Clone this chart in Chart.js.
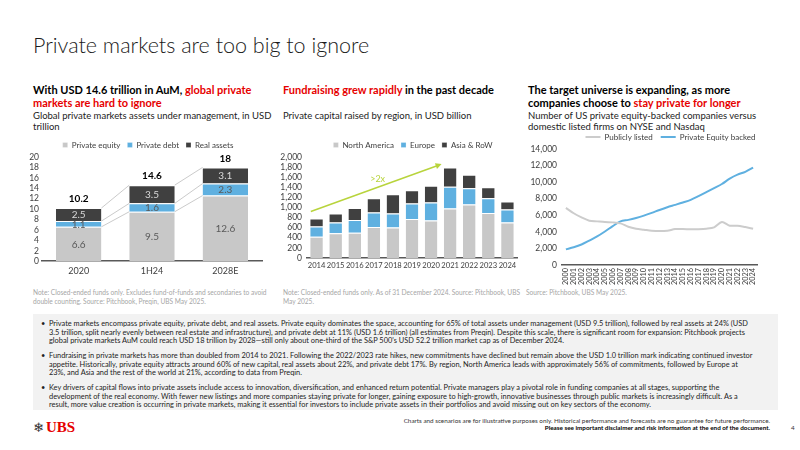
<!DOCTYPE html>
<html>
<head>
<meta charset="utf-8">
<script src="https://cdn.jsdelivr.net/npm/chart.js@4.4.1/dist/chart.umd.min.js"></script>
<style>
  body { margin: 0; width: 800px; height: 450px; position: relative; overflow: hidden; background: #fff; font-family: Lato, "Noto Sans", sans-serif; color: #000; }
  .abs { position: absolute; white-space: nowrap; }
  .title { left: 33px; top: 32px; font-size: 21.5px; line-height: 26px; font-weight: 300; color: #1a1a1a; }
  .head { top: 83px; font-size: 11px; line-height: 13.3px; font-weight: 700; }
  .red { color: #e60000; }
  .sub { top: 111px; font-size: 9.5px; line-height: 10.6px; color: #222; }
  .note { top: 288px; font-size: 6.6px; line-height: 8.5px; color: #a6a6a6; }
  .box { left: 33px; top: 314px; width: 745px; height: 96px; background: #f2f2f2; }
  .bullets { left: 41px; top: 320px; font-size: 7.4px; line-height: 8.5px; color: #222; }
  .bullets .b { position: relative; padding-left: 8px; margin-bottom: 6.5px; }
  .bullets .b::before { content: "•"; position: absolute; left: 0; top: 0; }
  .chart { position: absolute; }
  .foot { right: 30px; top: 417px; font-size: 6.3px; line-height: 7px; text-align: right; color: #333; }
  .pg { left: 791px; top: 424px; font-size: 6.3px; color: #333; }
  .logo { left: 33px; top: 417px; font-size: 15px; line-height: 18px; }
  .logo .k { color: #333; font-size: 13px; font-family: "DejaVu Sans", sans-serif; }
  .logo .u { color: #e60000; font-family: "Liberation Serif", serif; font-weight: 700; margin-left: 2px; }
</style>
</head>
<body>

<div class="abs title">Private markets are too big to ignore</div>

<div class="abs head" style="left:33px">With USD 14.6 trillion in AuM, <span class="red">global private</span><br><span class="red">markets are hard to ignore</span></div>
<div class="abs head" style="left:283px"><span class="red">Fundraising grew rapidly</span> in the past decade</div>
<div class="abs head" style="left:528px">The target universe is expanding, as more<br>companies choose to <span class="red">stay private for longer</span></div>

<div class="abs sub" style="left:33px">Global private markets assets under management, in USD<br>trillion</div>
<div class="abs sub" style="left:283px">Private capital raised by region, in USD billion</div>
<div class="abs sub" style="left:528px">Number of US private equity-backed companies versus<br>domestic listed firms on NYSE and Nasdaq</div>

<div class="chart" style="left:0px;top:134px;width:270px;height:146px"><canvas id="aumChart"></canvas></div>
<div class="chart" style="left:270px;top:134px;width:260px;height:139px"><canvas id="raisedChart"></canvas></div>
<div class="chart" style="left:530px;top:125px;width:270px;height:163px"><canvas id="firmsChart"></canvas></div>

<div class="abs note" style="left:33px">Note: Closed-ended funds only. Excludes fund-of-funds and secondaries to avoid<br>double counting. Source: Pitchbook, Preqin, UBS May 2025.</div>
<div class="abs note" style="left:283px">Note: Closed-ended funds only. As of 31 December 2024. Source: Pitchbook, UBS<br>May 2025.</div>
<div class="abs note" style="left:526px">Source: Pitchbook, UBS May 2025.</div>

<div class="abs box"></div>
<div class="abs bullets">
  <div class="b">Private markets encompass private equity, private debt, and real assets. Private equity dominates the space, accounting for 65% of total assets under management (USD 9.5 trillion), followed by real assets at 24% (USD<br>3.5 trillion, split nearly evenly between real estate and infrastructure), and private debt at 11% (USD 1.6 trillion) (all estimates from Preqin). Despite this scale, there is significant room for expansion: Pitchbook projects<br>global private markets AuM could reach USD 18 trillion by 2028—still only about one-third of the S&amp;P 500's USD 52.2 trillion market cap as of December 2024.</div>
  <div class="b">Fundraising in private markets has more than doubled from 2014 to 2021. Following the 2022/2023 rate hikes, new commitments have declined but remain above the USD 1.0 trillion mark indicating continued investor<br>appetite. Historically, private equity attracts around 60% of new capital, real assets about 22%, and private debt 17%. By region, North America leads with approximately 56% of commitments, followed by Europe at<br>23%, and Asia and the rest of the world at 21%, according to data from Preqin.</div>
  <div class="b">Key drivers of capital flows into private assets include access to innovation, diversification, and enhanced return potential. Private managers play a pivotal role in funding companies at all stages, supporting the<br>development of the real economy. With fewer new listings and more companies staying private for longer, gaining exposure to high-growth, innovative businesses through public markets is increasingly difficult. As a<br>result, more value creation is occurring in private markets, making it essential for investors to include private assets in their portfolios and avoid missing out on key sectors of the economy.</div>
</div>

<div class="abs logo"><span class="k">❄</span><span class="u">UBS</span></div>
<div class="abs foot">Charts and scenarios are for illustrative purposes only. Historical performance and forecasts are no guarantee for future performance.<br><b style="color:#000">Please see important disclaimer and risk information at the end of the document.</b></div>
<div class="abs pg">4</div>

<script>
/* ===== DATA ===== */
const aumPeriods = ["2020", "1H24", "2028E"];
const aumEquity = [6.6, 9.5, 12.6];
const aumDebt = [1.1, 1.6, 2.3];
const aumReal = [2.5, 3.5, 3.1];
const aumTotals = [10.2, 14.6, 18];

const raisedYears = ["2014", "2015", "2016", "2017", "2018", "2019", "2020", "2021", "2022", "2023", "2024"];
const raisedNorthAmerica = [420, 490, 500, 610, 600, 770, 740, 980, 1060, 890, 700];
const raisedEurope = [200, 210, 250, 290, 280, 310, 360, 430, 320, 290, 260];
const raisedAsiaRow = [160, 180, 240, 280, 380, 260, 330, 380, 270, 220, 160];

const firmYears = ["2000", "2001", "2002", "2003", "2004", "2005", "2006", "2007", "2008", "2009", "2010", "2011", "2012",
  "2013", "2014", "2015", "2016", "2017", "2018", "2019", "2020", "2021", "2022", "2023", "2024"];
const firmsListed = [6900, 6250, 5750, 5350, 5270, 5190, 5150, 5030, 4620, 4380, 4260, 4140, 4100,
  4140, 4340, 4340, 4330, 4330, 4380, 4540, 5190, 4750, 4750, 4580, 4380];
const firmsPeBacked = [1900, 2150, 2480, 2950, 3450, 4050, 4700, 5270, 5450, 5680, 5960, 6290, 6650,
  6980, 7260, 7550, 7870, 8320, 8800, 9290, 9780, 10430, 10910, 11240, 11760];

/* ===== STYLE ===== */
const GRAY = "#c8c8c8";
const BLUE = "#5fb0e0";
const DARK = "#404040";
const AXIS = "#595959";
const GREEN = "#b8d43c";

Chart.defaults.font.family = "Lato, 'Noto Sans', sans-serif";
Chart.defaults.font.size = 9;
Chart.defaults.color = "#404040";
Chart.defaults.animation = false;

/* fixed legend height, legend centred on the plot area */
function legendBox(h, dx) {
  return {
    id: "legendBox",
    beforeInit(chart) {
      const fit = chart.legend.fit;
      chart.legend.fit = function () {
        fit.call(this);
        this.height = h;
      };
    },
    afterLayout(chart) {
      const lg = chart.legend, a = chart.chartArea;
      const shift = (a.left + a.right) / 2 + dx - (lg.left + lg.right) / 2;
      lg.left += shift;
      lg.right += shift;
    }
  };
}

function legendOpts(extra) {
  return Object.assign({
    display: true,
    position: "top",
    labels: { boxWidth: 5, boxHeight: 5, padding: 7, color: "#404040", font: { size: 8 } }
  }, extra || {});
}

/* ===== CHART 1: AUM ===== */
const aumConnectors = {
  id: "aumConnectors",
  afterDatasetsDraw(chart) {
    const ctx = chart.ctx;
    ctx.save();
    ctx.strokeStyle = "#bdbdbd";
    ctx.lineWidth = 0.8;
    for (let d = 0; d < chart.data.datasets.length; d++) {
      const bars = chart.getDatasetMeta(d).data;
      for (let i = 0; i < bars.length - 1; i++) {
        const a = bars[i], b = bars[i + 1];
        ctx.beginPath();
        ctx.moveTo(a.x + a.width / 2, a.y);
        ctx.lineTo(b.x - b.width / 2, b.y);
        ctx.stroke();
      }
    }
    // values inside segments
    ctx.textAlign = "center";
    ctx.textBaseline = "middle";
    ctx.font = "10px Lato, sans-serif";
    const labelColors = ["#595959", "#595959", "#d9d9d9"];
    chart.data.datasets.forEach((ds, d) => {
      chart.getDatasetMeta(d).data.forEach((bar, i) => {
        ctx.fillStyle = labelColors[d];
        ctx.fillText(ds.data[i].toFixed(1), bar.x, (bar.y + bar.base) / 2 + 0.5);
      });
    });
    // totals
    const top = chart.getDatasetMeta(chart.data.datasets.length - 1).data;
    ctx.font = "bold 10px Lato, sans-serif";
    ctx.fillStyle = "#000";
    top.forEach((bar, i) => {
      ctx.fillText(String(aumTotals[i]), bar.x, bar.y - 9);
    });
    ctx.restore();
  }
};

new Chart(document.getElementById("aumChart"), {
  type: "bar",
  data: {
    labels: aumPeriods,
    datasets: [
      { label: "Private equity", data: aumEquity, backgroundColor: GRAY },
      { label: "Private debt", data: aumDebt, backgroundColor: BLUE },
      { label: "Real assets", data: aumReal, backgroundColor: DARK }
    ].map(ds => Object.assign(ds, {
      borderColor: "#fff", borderWidth: { top: 1 }, borderSkipped: "bottom",
      barPercentage: 0.62, categoryPercentage: 1
    }))
  },
  options: {
    responsive: true,
    maintainAspectRatio: false,
    layout: { padding: { right: 8 } },
    plugins: { legend: legendOpts(), tooltip: { enabled: false } },
    scales: {
      x: {
        stacked: true,
        grid: { display: false, drawTicks: false },
        border: { color: AXIS, width: 1.5 },
        ticks: { padding: 4, font: { size: 9 } }
      },
      y: {
        stacked: true, min: 0, max: 20,
        grid: { display: false, drawTicks: false },
        border: { display: false },
        ticks: { stepSize: 2, autoSkip: false, padding: 3, font: { size: 8.5 } },
        afterFit(axis) { axis.width = 42; }
      }
    }
  },
  plugins: [legendBox(23, -4), aumConnectors]
});

/* ===== CHART 2: CAPITAL RAISED ===== */
const growthArrow = {
  id: "growthArrow",
  afterDatasetsDraw(chart) {
    const x = chart.scales.x, y = chart.scales.y, ctx = chart.ctx;
    const x0 = x.getPixelForValue(-0.3), y0 = y.getPixelForValue(920);
    const x1 = x.getPixelForValue(6.55), y1 = y.getPixelForValue(1860);
    const ang = Math.atan2(y1 - y0, x1 - x0);
    ctx.save();
    ctx.strokeStyle = GREEN;
    ctx.fillStyle = GREEN;
    ctx.lineWidth = 1.5;
    ctx.beginPath();
    ctx.moveTo(x0, y0);
    ctx.lineTo(x1 - 4 * Math.cos(ang), y1 - 4 * Math.sin(ang));
    ctx.stroke();
    ctx.beginPath();
    ctx.moveTo(x1, y1);
    ctx.lineTo(x1 - 6 * Math.cos(ang) + 3 * Math.sin(ang), y1 - 6 * Math.sin(ang) - 3 * Math.cos(ang));
    ctx.lineTo(x1 - 6 * Math.cos(ang) - 3 * Math.sin(ang), y1 - 6 * Math.sin(ang) + 3 * Math.cos(ang));
    ctx.closePath();
    ctx.fill();
    ctx.font = "9px Lato, sans-serif";
    ctx.textAlign = "center";
    ctx.textBaseline = "middle";
    ctx.fillText(">2x", x.getPixelForValue(3.2), y.getPixelForValue(1570));
    ctx.restore();
  }
};

new Chart(document.getElementById("raisedChart"), {
  type: "bar",
  data: {
    labels: raisedYears,
    datasets: [
      { label: "North America", data: raisedNorthAmerica, backgroundColor: GRAY },
      { label: "Europe", data: raisedEurope, backgroundColor: BLUE },
      { label: "Asia & RoW", data: raisedAsiaRow, backgroundColor: DARK }
    ].map(ds => Object.assign(ds, {
      borderColor: "#fff", borderWidth: { top: 1 }, borderSkipped: "bottom",
      barPercentage: 0.66, categoryPercentage: 1
    }))
  },
  options: {
    responsive: true,
    maintainAspectRatio: false,
    layout: { padding: { right: 13 } },
    plugins: { legend: legendOpts(), tooltip: { enabled: false } },
    scales: {
      x: {
        stacked: true,
        grid: { display: false, drawTicks: false },
        border: { color: AXIS, width: 1.5 },
        ticks: { padding: 3, autoSkip: false, maxRotation: 0, font: { size: 7.6 } }
      },
      y: {
        stacked: true, min: 0, max: 2000,
        grid: { display: false, drawTicks: false },
        border: { display: false },
        ticks: { stepSize: 200, autoSkip: false, padding: 5, font: { size: 8.5 } },
        afterFit(axis) { axis.width = 37; }
      }
    }
  },
  plugins: [legendBox(23, 1), growthArrow]
});

/* ===== CHART 3: FIRMS ===== */
new Chart(document.getElementById("firmsChart"), {
  type: "line",
  data: {
    labels: firmYears,
    datasets: [
      { label: "Publicly listed", data: firmsListed, borderColor: "#cccccc", backgroundColor: "#cccccc" },
      { label: "Private Equity backed", data: firmsPeBacked, borderColor: BLUE, backgroundColor: BLUE }
    ].map(ds => Object.assign(ds, { borderWidth: 2, pointRadius: 0, tension: 0.3 }))
  },
  options: {
    responsive: true,
    maintainAspectRatio: false,
    layout: { padding: { right: 43 } },
    plugins: {
      legend: legendOpts({
        labels: { usePointStyle: true, pointStyle: "line", pointStyleWidth: 15, padding: 8, color: "#404040", font: { size: 8 } }
      }),
      tooltip: { enabled: false }
    },
    scales: {
      x: {
        offset: true,
        grid: { display: false, drawTicks: false },
        border: { color: AXIS, width: 1.5 },
        ticks: { padding: 3, autoSkip: false, minRotation: 90, maxRotation: 90, font: { size: 7.3 } }
      },
      y: {
        min: 0, max: 14000,
        grid: { display: false, drawTicks: false },
        border: { display: false },
        ticks: { stepSize: 2000, autoSkip: false, padding: 5, font: { size: 8.5 } },
        afterFit(axis) { axis.width = 32; }
      }
    }
  },
  plugins: [legendBox(24, 11)]
});
</script>
</body>
</html>
